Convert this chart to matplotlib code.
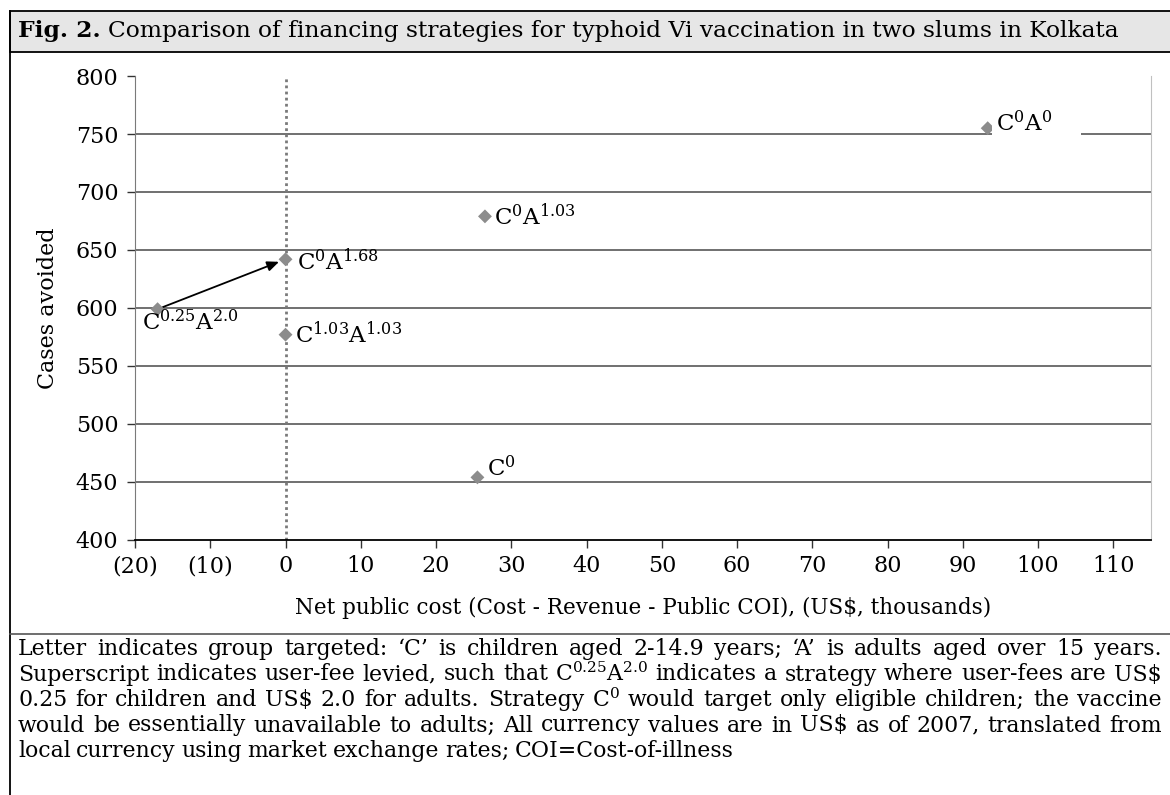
import matplotlib
matplotlib.use("Agg")
import matplotlib.pyplot as plt
from matplotlib.patches import Rectangle
from matplotlib.lines import Line2D

# values
strategies = ["C0A0", "C0A1.03", "C0A1.68", "C0.25A2.0", "C1.03A1.03", "C0"]
net_cost = [93.3, 26.5, 0.0, -17.0, 0.0, 25.5]          # US$ thousands
cases_avoided = [755, 679, 642, 599, 577, 454]
point_labels = [
    r"$\mathregular{C^{0}A^{0}}$" + "\u2003\u2003",
    r"$\mathregular{C^{0}A^{1.03}}$",
    r"$\mathregular{C^{0}A^{1.68}}$",
    r"$\mathregular{C^{0.25}A^{2.0}}$",
    r"$\mathregular{C^{1.03}A^{1.03}}$",
    r"$\mathregular{C^{0}}$",
]
x_ticks = [-20, -10, 0, 10, 20, 30, 40, 50, 60, 70, 80, 90, 100, 110]
x_tick_labels = ["(20)", "(10)", "0", "10", "20", "30", "40", "50", "60",
                 "70", "80", "90", "100", "110"]
y_ticks = [400, 450, 500, 550, 600, 650, 700, 750, 800]

title_bold = "Fig. 2."
title_rest = "Comparison of financing strategies for typhoid Vi vaccination in two slums in Kolkata"
footer_lines = [
    "Letter indicates group targeted: \u2018C\u2019 is children aged 2-14.9 years; \u2018A\u2019 is adults aged over 15 years.",
    r"Superscript indicates user-fee levied, such that $\mathregular{C^{0.25}A^{2.0}}$ indicates a strategy where user-fees are US\$",
    r"0.25 for children and US\$ 2.0 for adults. Strategy $\mathregular{C^{0}}$ would target only eligible children; the vaccine",
    r"would be essentially unavailable to adults; All currency values are in US\$ as of 2007, translated from",
    "local currency using market exchange rates; COI=Cost-of-illness",
]

plt.rcParams["font.family"] = ["DejaVu Serif"]
plt.rcParams["mathtext.fontset"] = "dejavuserif"

W, H = 1170, 795
fig = plt.figure(figsize=(W / 100, H / 100), dpi=100)


def fx(px):
    return px / W


def fy(py):
    return 1 - py / H


# frame: header band, left border, separator above the note
fig.add_artist(Rectangle((fx(10), fy(52)), fx(1175 - 10), 41 / H,
                         transform=fig.transFigure, facecolor="#e6e6e6",
                         edgecolor="black", lw=1.3, zorder=0))
fig.add_artist(Line2D([fx(10), fx(10)], [fy(11), 0], transform=fig.transFigure,
                      color="black", lw=1.3))
fig.add_artist(Line2D([fx(10), 1], [fy(634), fy(634)], transform=fig.transFigure,
                      color="#555555", lw=1.2))

renderer = fig.canvas.get_renderer()
t = fig.text(fx(18), fy(31.5), title_bold, fontsize=16.8, fontweight="bold",
             va="center", ha="left")
bw = t.get_window_extent(renderer).width
fig.text(fx(18 + bw + 7), fy(31.5), title_rest, fontsize=16.8, va="center", ha="left")

# chart
ax = fig.add_axes([fx(135), fy(540), fx(1151 - 135), (540 - 76) / H])
ax.set_xlim(-20, 115)
ax.set_ylim(400, 800)
ax.set_xticks(x_ticks)
ax.set_xticklabels(x_tick_labels)
ax.set_yticks(y_ticks)
ax.tick_params(axis="both", labelsize=16, length=6, width=1, direction="out",
               colors="#333333", labelcolor="black")
ax.tick_params(axis="x", pad=5)
ax.tick_params(axis="y", pad=6)
for y in y_ticks[1:-1]:
    ax.axhline(y, color="#585858", lw=1.2, zorder=1)
ax.spines["top"].set_visible(False)
ax.spines["right"].set_color("#c0c0c0")
ax.spines["left"].set_color("#7a7a7a")
ax.spines["bottom"].set_color("black")
ax.spines["bottom"].set_linewidth(1.3)

ax.axvline(0, color="#7a7a7a", lw=2, linestyle=(0, (1, 1.2)), zorder=2)

ax.scatter(net_cost, cases_avoided, marker="D", s=50, color="#8c8c8c",
           edgecolors="none", zorder=4)

offsets = [(6, 3), (6.5, 0), (8, -2), (-11.5, -10), (7, 0), (7, 6.5)]
for i, lab in enumerate(point_labels):
    bbox = None
    if i == 0:
        bbox = dict(facecolor="white", edgecolor="none", pad=3)
    ax.annotate(lab, (net_cost[i], cases_avoided[i]), xytext=offsets[i],
                textcoords="offset points", fontsize=16.5, ha="left", va="center",
                bbox=bbox, zorder=5)

# shift from C0.25A2.0 to C0A1.68
ax.annotate("", xy=(net_cost[2], cases_avoided[2]),
            xytext=(net_cost[3], cases_avoided[3]),
            arrowprops=dict(arrowstyle="-|>,head_length=0.7,head_width=0.3",
                            color="black", lw=1.3, shrinkA=4, shrinkB=5),
            zorder=3)

ax.set_ylabel("Cases avoided", fontsize=16, labelpad=12)
ax.set_xlabel(r"Net public cost (Cost - Revenue - Public COI), (US\$, thousands)",
              fontsize=15.5, labelpad=14)


# justified note below the chart
def draw_justified(lines, x0, x1, y0, step, size):
    for i, line in enumerate(lines):
        words = line.split(" ")
        texts = [fig.text(0, fy(y0 + i * step), w, fontsize=size, va="center",
                          ha="left") for w in words]
        widths = [tx.get_window_extent(renderer).width for tx in texts]
        if i == len(lines) - 1:
            gap = size * 0.35
        else:
            gap = (x1 - x0 - sum(widths)) / (len(words) - 1)
        x = x0
        for tx, w in zip(texts, widths):
            tx.set_x(fx(x))
            x += w + gap


draw_justified(footer_lines, 18, 1162, 649, 25.5, 15.8)

fig.savefig("out.png", dpi=100)
